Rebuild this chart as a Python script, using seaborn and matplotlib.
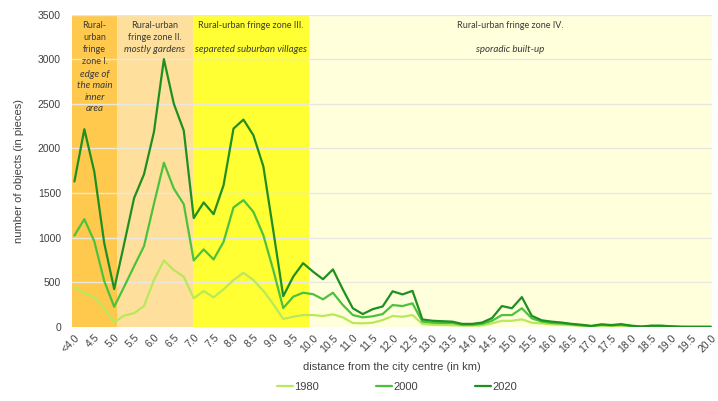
import numpy as np
import pandas as pd
import seaborn as sns
import matplotlib.pyplot as plt

# distance categories (km), one point every 0.25 km
distance = np.arange(4.0, 20.01, 0.25)

objects_1980 = [445, 377, 339, 209, 55, 128, 155, 235, 526, 745, 638, 563, 321,
                403, 332, 422, 526, 607, 526, 406, 257, 90, 115, 134, 134, 123, 142, 108, 45,
                41, 48, 78, 123, 115, 134, 34, 25, 22, 20, 15, 15, 18, 41, 70, 70, 86, 48, 40,
                30, 25, 20, 12, 6, 12, 8, 12, 5, 2, 5, 5, 2, 1, 1, 1, 1]
objects_2000 = [1025, 1208, 960, 515, 227, 450, 680, 905, 1380, 1840, 1550, 1375, 745,
                869, 757, 954, 1339, 1421, 1290, 1029, 638, 212, 339, 384, 368, 310, 384, 246, 134,
                108, 120, 145, 246, 235, 265, 60, 48, 45, 45, 25, 25, 35, 70, 134, 134, 210, 97, 60,
                45, 40, 30, 20, 10, 25, 18, 25, 12, 4, 12, 12, 6, 2, 2, 2, 2]
objects_2020 = [1630, 2215, 1740, 940, 425, 930, 1443, 1711, 2185, 3000, 2500, 2200, 1220,
                1395, 1264, 1588, 2222, 2323, 2148, 1800, 1080, 345, 563, 715, 620, 535, 645, 420, 210,
                145, 200, 230, 400, 365, 405, 85, 70, 65, 60, 35, 35, 50, 100, 235, 210, 335, 125, 75,
                60, 50, 35, 25, 12, 30, 22, 32, 15, 5, 15, 15, 8, 3, 2, 2, 2]

tick_values = np.arange(4.0, 20.01, 0.5)
tick_labels = ['<4.0'] + ['%.1f' % v for v in tick_values[1:]]

# zones: (start, end, colour)
zone_edges = [3.94, 5.07, 6.98, 9.9, 20.03]
zone_colors = ['#ffc94d', '#ffdf9c', '#ffff33', '#ffffdc']

data = pd.DataFrame({
    'distance': np.tile(distance, 3),
    'objects': objects_1980 + objects_2000 + objects_2020,
    'year': ['1980'] * 65 + ['2000'] * 65 + ['2020'] * 65,
})
palette = {'1980': '#b9e85c', '2000': '#4cc23c', '2020': '#1f8f21'}

sns.set_style('white')
plt.rcParams['font.family'] = ['Liberation Sans', 'DejaVu Sans']

fig = plt.figure(figsize=(7.18, 4.01), dpi=100)
ax = fig.add_axes([0.1003, 0.1845, 0.8913, 0.7793])

for i in range(4):
    ax.axvspan(zone_edges[i], zone_edges[i + 1], color=zone_colors[i], zorder=0, lw=0)

for v in range(500, 3501, 500):
    ax.axhline(v, color='#e8e8e0', lw=1, zorder=1)

sns.lineplot(data=data, x='distance', y='objects', hue='year', palette=palette,
             linewidth=1.6, ax=ax, zorder=3)

ax.set_xlim(zone_edges[0], zone_edges[-1])
ax.set_ylim(0, 3500)
ax.set_yticks(range(0, 3501, 500))
ax.set_xticks(tick_values)
ax.set_xticklabels(tick_labels, rotation=45, ha='right', rotation_mode='anchor')
ax.tick_params(axis='both', length=0, labelsize=7.5, labelcolor='#404040')
ax.tick_params(axis='x', pad=4)
ax.tick_params(axis='y', pad=8)
for s in ax.spines.values():
    s.set_visible(False)

ax.set_xlabel('distance from the city centre (in km)', fontsize=8, color='#404040', labelpad=6)
ax.set_ylabel('number of objects (in pieces)', fontsize=8, color='#404040', labelpad=10)

# zone captions
zfont = dict(family='Lato', fontsize=6.5, color='#3a3a3a', ha='center', va='top')
ifont = dict(zfont, fontsize=7, style='italic')
step = 137
ax.text(4.505, 3430, 'Rural-\nurban\nfringe\nzone I.', linespacing=1.45, **zfont)
ax.text(4.505, 3430 - 4 * step, 'edge of\nthe main\ninner\narea', linespacing=1.35, **ifont)
ax.text(6.025, 3430, 'Rural-urban\nfringe zone II.', linespacing=1.45, **zfont)
ax.text(6.025, 3430 - 2 * step, 'mostly gardens', **ifont)
ax.text(8.44, 3430, 'Rural-urban fringe zone III.', **zfont)
ax.text(8.44, 3430 - 2 * step, 'separeted suburban villages', **ifont)
ax.text(14.96, 3430, 'Rural-urban fringe zone IV.', **zfont)
ax.text(14.96, 3430 - 2 * step, 'sporadic built-up', **ifont)

handles, labels = ax.get_legend_handles_labels()
ax.get_legend().remove()
fig.legend(handles, labels, loc='center', bbox_to_anchor=(0.553, 0.035), ncol=3,
           frameon=False, fontsize=8, handlelength=1.4, handletextpad=0.1,
           columnspacing=5.2, labelcolor='#404040')

fig.savefig('out.png', dpi=100)
